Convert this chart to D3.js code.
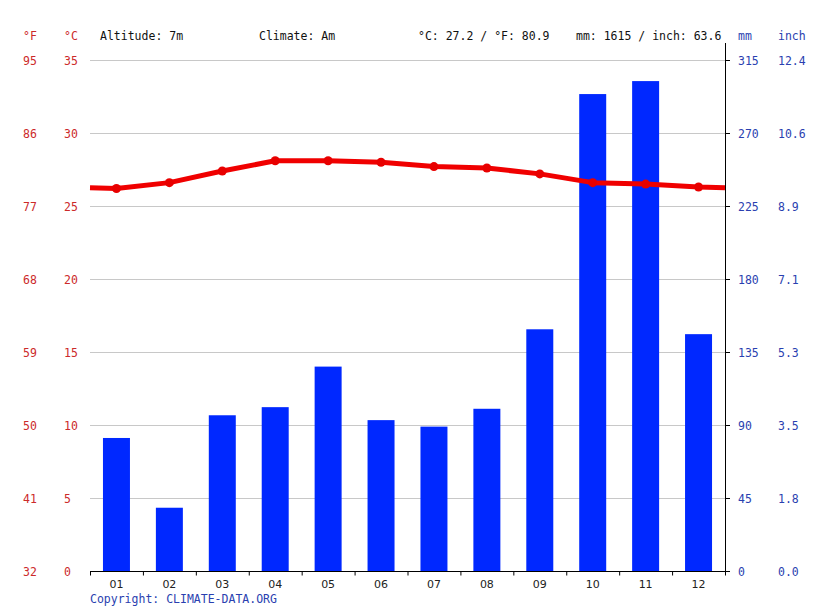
<!DOCTYPE html>
<html><head><meta charset="utf-8">
<script src="https://cdn.jsdelivr.net/npm/d3@7"></script>
<style>body{margin:0;background:#fff}svg{display:block}</style>
</head><body>
<svg id="c" width="815" height="611"></svg>
<script>
const months = ["01","02","03","04","05","06","07","08","09","10","11","12"];
const tempC = [26.2,26.6,27.4,28.1,28.1,28.0,27.7,27.6,27.2,26.6,26.5,26.3];
const precipMm = [82,39,96,101,126,93,89,100,149,294,302,146];
const cTicks = [0,5,10,15,20,25,30,35];
const fTicks = ["32","41","50","59","68","77","86","95"];
const mmTicks = [0,45,90,135,180,225,270,315];
const inchTicks = ["0.0","1.8","3.5","5.3","7.1","8.9","10.6","12.4"];
const headerTexts = [
  {t:"Altitude: 7m", x:100},
  {t:"Climate: Am", x:259},
  {t:"°C: 27.2 / °F: 80.9", x:418},
  {t:"mm: 1615 / inch: 63.6", x:576}
];

const svg = d3.select("#c");
const L=90, R=725, T=60, B=571;
const x = d3.scaleBand().domain(months).range([L,R]).paddingInner(0.49).paddingOuter(0.245);
const xc = d3.scaleBand().domain(months).range([L,R]);
const yT = d3.scaleLinear().domain([0,35]).range([B,T]);
const yP = d3.scaleLinear().domain([0,315]).range([B,T]);
const mono = "'DejaVu Sans Mono', monospace";
const red = "#cc2a2a", blue = "#2a3fb0";

// grid
svg.append("g").selectAll("line").data(cTicks.slice(1)).join("line")
  .attr("x1",L).attr("x2",R).attr("y1",d=>yT(d)+0.5).attr("y2",d=>yT(d)+0.5)
  .attr("stroke","#c8c8c8").attr("stroke-width",1);

// bars
svg.append("g").selectAll("rect").data(precipMm).join("rect")
  .attr("x",(d,i)=>x(months[i])).attr("width",x.bandwidth())
  .attr("y",d=>yP(d)).attr("height",d=>B-yP(d)).attr("fill","#0028ff");

// temperature line extended to edges
const edge = (tempC[0]+tempC[11])/2;
const pts = [[L,edge]].concat(tempC.map((d,i)=>[xc(months[i])+xc.bandwidth()/2,d])).concat([[R,edge]]);
svg.append("path").datum(pts)
  .attr("d",d3.line().x(d=>d[0]).y(d=>yT(d[1])))
  .attr("fill","none").attr("stroke","#f00000").attr("stroke-width",5).attr("stroke-linejoin","round");
svg.append("g").selectAll("circle").data(tempC).join("circle")
  .attr("cx",(d,i)=>xc(months[i])+xc.bandwidth()/2).attr("cy",d=>yT(d)).attr("r",4.5).attr("fill","#e80000");

// bottom axis
const gx = svg.append("g").attr("transform",`translate(0,${B+0.5})`);
gx.append("line").attr("x1",L).attr("x2",R+4).attr("stroke","#000");
gx.selectAll("line.t").data(d3.range(13)).join("line").attr("class","t")
  .attr("x1",i=>L+i*xc.bandwidth()+0.5).attr("x2",i=>L+i*xc.bandwidth()+0.5).attr("y1",0).attr("y2",4).attr("stroke","#000");
gx.selectAll("text").data(months).join("text")
  .attr("x",d=>xc(d)+xc.bandwidth()/2).attr("y",16)
  .attr("text-anchor","middle").attr("font-family","'DejaVu Sans', sans-serif").attr("font-size",11).attr("fill","#222").text(d=>d);

// right axis
svg.append("line").attr("x1",R+0.5).attr("x2",R+0.5).attr("y1",43).attr("y2",B+1).attr("stroke","#000");
svg.append("g").selectAll("line").data(mmTicks).join("line")
  .attr("x1",R).attr("x2",R+5).attr("y1",d=>yP(d)+0.5).attr("y2",d=>yP(d)+0.5).attr("stroke","#000");

// tick labels
function labels(data, xPos, yf, color){
  svg.append("g").selectAll("text").data(data).join("text")
    .attr("x",xPos).attr("y",(d,i)=>yf(i)+4.5)
    .attr("font-family",mono).attr("font-size",11.5).attr("fill",color).text(d=>d);
}
labels(fTicks,23,i=>yT(cTicks[i]),red);
labels(cTicks,64,i=>yT(cTicks[i]),red);
labels(mmTicks,738,i=>yP(mmTicks[i]),blue);
labels(inchTicks,778,i=>yP(mmTicks[i]),blue);

// headers
const hdr = (t,xx,c)=>svg.append("text").attr("x",xx).attr("y",40).attr("font-family",mono).attr("font-size",11.5).attr("fill",c).text(t);
hdr("°F",23,red); hdr("°C",64,red); hdr("mm",738,blue); hdr("inch",778,blue);
headerTexts.forEach(h=>hdr(h.t,h.x,"#111"));

svg.append("text").attr("x",90).attr("y",603).attr("font-family",mono).attr("font-size",11.5).attr("fill",blue).text("Copyright: CLIMATE-DATA.ORG");
</script>
</body></html>
